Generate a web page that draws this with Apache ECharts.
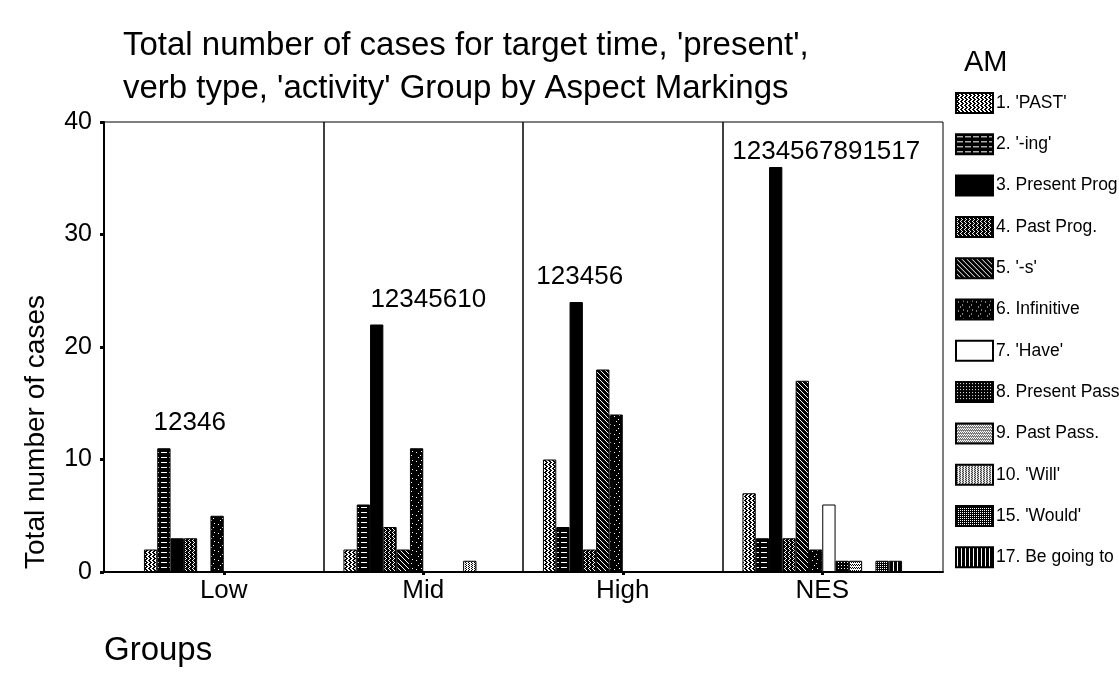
<!DOCTYPE html>
<html>
<head>
<meta charset="utf-8">
<script src="https://cdn.jsdelivr.net/npm/echarts@6/dist/echarts.min.js"></script>
<style>html,body{margin:0;padding:0;background:#fff;}#c{width:1119px;height:681px;}</style>
</head>
<body>
<div id="c"></div>
<script>
// ---- data ----
const categories = ['Low', 'Mid', 'High', 'NES'];
const amCodes = [1, 2, 3, 4, 5, 6, 7, 8, 9, 10, 15, 17];
const amNames = ["1. 'PAST'", "2. '-ing'", "3. Present Prog.", "4. Past Prog.", "5. '-s'", "6. Infinitive",
                 "7. 'Have'", "8. Present Pass.", "9. Past Pass.", "10. 'Will'", "15. 'Would'", "17. Be going to"];
const PAST        = [2, 2, 10, 7];
const ING         = [11, 6, 4, 3];
const PRES_PROG   = [3, 22, 24, 36];
const PAST_PROG   = [3, 4, 2, 3];
const S_FORM      = [0, 2, 18, 17];
const INFINITIVE  = [5, 11, 14, 2];
const HAVE        = [0, 0, 0, 6];
const PRES_PASS   = [0, 0, 0, 1];
const PAST_PASS   = [0, 0, 0, 1];
const WILL        = [0, 1, 0, 0];
const WOULD       = [0, 0, 0, 1];
const GOING_TO    = [0, 0, 0, 1];
const yTicks = [0, 10, 20, 30, 40];

const seriesValues = [PAST, ING, PRES_PROG, PAST_PROG, S_FORM, INFINITIVE, HAVE, PRES_PASS, PAST_PASS, WILL, WOULD, GOING_TO];

// ---- patterns ----
function pat(w, h, bg, draw) {
  const c = document.createElement('canvas');
  c.width = w; c.height = h;
  const g = c.getContext('2d');
  g.fillStyle = bg; g.fillRect(0, 0, w, h);
  draw(g);
  return { image: c, repeat: 'repeat' };
}
function px(g, col, pts) { g.fillStyle = col; pts.forEach(p => g.fillRect(p[0], p[1], p[2] || 1, p[3] || 1)); }

const patterns = [
  pat(4, 4, '#fff', g => px(g, '#000', [[0,0,2,1],[1,1,2,1],[2,2,2,1],[1,3,2,1]])),          // 1 PAST
  pat(8, 5, '#000', g => px(g, '#fff', [[1,2,6,1]])),                                        // 2 -ing
  '#000',                                                                                    // 3 Present Prog
  pat(4, 4, '#000', g => px(g, '#fff', [[0,0,1,1],[1,1,1,1],[2,2,1,1],[1,3,1,1]])),          // 4 Past Prog
  pat(5, 5, '#000', g => px(g, '#fff', [[0,0],[1,1],[2,2],[3,3],[4,4]])),                    // 5 -s
  pat(9, 9, '#000', g => px(g, '#fff', [[2,2],[6,5],[4,7],[7,1]])),                          // 6 Infinitive
  '#fff',                                                                                    // 7 Have
  pat(3, 3, '#000', g => px(g, '#fff', [[1,1]])),                                            // 8 Present Pass
  pat(4, 3, '#fff', g => px(g, '#000', [[0,0,1,1],[1,1,1,1],[2,0,1,1],[3,1,1,1]])),          // 9 Past Pass
  pat(3, 4, '#fff', g => px(g, '#000', [[0,0,1,1],[1,1,1,1],[0,2,1,1],[1,3,1,1]])),          // 10 Will
  pat(2, 2, '#000', g => px(g, '#fff', [[0,0]])),                                            // 15 Would
  pat(4, 4, '#000', g => px(g, '#fff', [[1,0,1,4]]))                                         // 17 Be going to
];

// group labels derived from data: codes with non-zero counts
const groupLabels = categories.map((_, i) => amCodes.filter((c, k) => seriesValues[k][i] > 0).join(''));
const groupMax = categories.map((_, i) => Math.max(...seriesValues.map(s => s[i])));
const labelOffsets = [[-34, -12], [5, -12], [-43, -12], [4, -2]];

const FONT = "'Liberation Sans', Arial, sans-serif";

const series = seriesValues.map((vals, k) => ({
  name: amNames[k],
  type: 'bar',
  xAxisIndex: 1, yAxisIndex: 1,
  data: vals,
  barGap: '0%',
  barCategoryGap: '20%',
  itemStyle: { color: patterns[k], borderColor: '#000', borderWidth: 1 },
  emphasis: { disabled: true },
  animation: false
}));

series.push({
  type: 'scatter',
  xAxisIndex: 1, yAxisIndex: 1,
  symbolSize: 0,
  silent: true,
  itemStyle: { opacity: 1, color: '#000' },
  data: categories.map((c, i) => ({
    value: [c, groupMax[i]],
    label: { offset: labelOffsets[i] }
  })),
  label: {
    show: true, position: 'top', distance: 0,
    formatter: p => groupLabels[p.dataIndex],
    color: '#000', opacity: 1, fontSize: 26, fontFamily: FONT
  },
  animation: false
});

const chart = echarts.init(document.getElementById('c'), null, { renderer: 'canvas' });
chart.setOption({
  backgroundColor: '#fff',
  animation: false,
  title: {
    text: "Total number of cases for target time, 'present',\nverb type, 'activity' Group by Aspect Markings",
    left: 118, top: 19,
    textStyle: { fontSize: 33, fontWeight: 'normal', color: '#000', fontFamily: FONT, lineHeight: 43 }
  },
  legend: {
    orient: 'vertical',
    left: 950, top: 87,
    itemWidth: 37, itemHeight: 20, itemGap: 19.3,
    icon: 'rect',
    selectedMode: false,
    data: amNames,
    textStyle: { fontSize: 17.5, color: '#000', fontFamily: FONT, padding: [0, 0, 0, -2] }
  },
  grid: [
    { left: 104, top: 122, width: 839, height: 450, show: true, borderColor: '#000', borderWidth: 1, backgroundColor: 'transparent' },
    { left: 124, top: 122, width: 798, height: 450 }
  ],
  xAxis: [
    { type: 'value', gridIndex: 0, min: 0, max: 1, axisLine: { show: true, lineStyle: { color: '#000', width: 2 } },
      axisTick: { show: false }, axisLabel: { show: false }, splitLine: { show: false } },
    { type: 'category', gridIndex: 1, data: categories,
      axisLine: { show: false },
      axisTick: { show: true, alignWithLabel: true, length: 3, lineStyle: { color: '#000', width: 3 } },
      axisLabel: { color: '#000', fontSize: 26, fontFamily: FONT, margin: 6 },
      splitLine: { show: true, lineStyle: { color: ['rgba(0,0,0,0)', '#000', '#000', '#000', 'rgba(0,0,0,0)'], width: 1.5 } }
    }
  ],
  yAxis: [
    { type: 'value', gridIndex: 0, min: 0, max: 40, show: false, splitLine: { show: false } },
    { type: 'value', gridIndex: 1, min: yTicks[0], max: yTicks[yTicks.length - 1], interval: 10, offset: 20,
      axisLine: { show: true, lineStyle: { color: '#000', width: 2 } },
      axisTick: { show: true, length: 4, lineStyle: { color: '#000', width: 3 } },
      axisLabel: { color: '#000', fontSize: 25, fontFamily: FONT, margin: 12 },
      splitLine: { show: false }
    }
  ],
  graphic: [
    { type: 'text', x: 36, y: 432, rotation: Math.PI / 2,
      style: { text: 'Total number of cases', fontSize: 28, fontFamily: FONT, fill: '#000', textAlign: 'center', textVerticalAlign: 'middle' } },
    { type: 'text', left: 104, top: 634,
      style: { text: 'Groups', fontSize: 33, fontFamily: FONT, fill: '#000' } },
    { type: 'text', left: 964, top: 48,
      style: { text: 'AM', fontSize: 29, fontFamily: FONT, fill: '#000' } }
  ],
  series: series
});
</script>
</body>
</html>
